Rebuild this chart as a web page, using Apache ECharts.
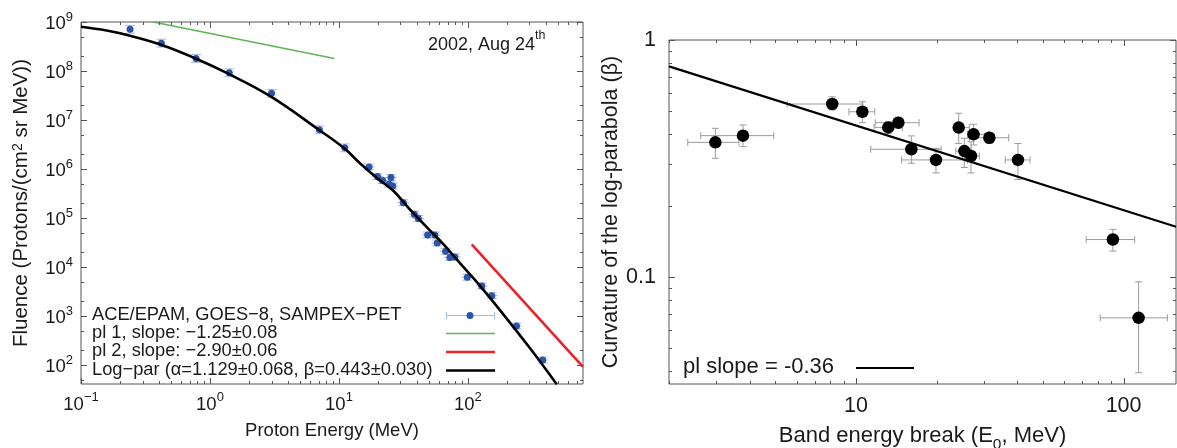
<!DOCTYPE html>
<html><head><meta charset="utf-8">
<script src="https://cdn.jsdelivr.net/npm/echarts@6/dist/echarts.min.js"></script>
<style>html,body{margin:0;padding:0;background:#fff}#c{width:1177px;height:448px}</style>
</head><body><div id="c"></div>
<script>
// ---------------- Left panel: proton fluence spectrum (2002, Aug 24) ----------------
const energyMeV = [0.24, 0.42, 0.78, 1.41, 3.0, 7.05, 11.1, 17.1, 19.9, 21.8, 24.5, 25.3, 26.1, 31.5, 38.4, 41.2, 48.7, 55.4, 57.8, 67.1, 72.4, 79.2, 98.8, 128, 153, 238, 380];
const fluence = [7.1e8, 3.7e8, 1.8e8, 9.2e7, 3.5e7, 6.3e6, 2.7e6, 1.1e6, 7.0e5, 5.8e5, 4.9e5, 6.7e5, 4.5e5, 2.05e5, 1.2e5, 9.8e4, 4.5e4, 4.5e4, 3.1e4, 2.1e4, 1.57e4, 1.6e4, 6.2e3, 4.1e3, 2.6e3, 625, 126];
const energyErrDex = [0, 0, 0, 0, 0, 0, 0, 0.045, 0.045, 0.045, 0.045, 0.045, 0.045, 0.045, 0.045, 0.045, 0.045, 0.045, 0.045, 0.045, 0.045, 0.045, 0.045, 0.045, 0.045, 0.04, 0.04];
const fluenceErrDex = [0.08, 0.08, 0.08, 0.08, 0.08, 0.08, 0.08, 0.06, 0.06, 0.06, 0.06, 0.06, 0.06, 0.06, 0.06, 0.06, 0.06, 0.06, 0.06, 0.06, 0.06, 0.06, 0.06, 0.06, 0.06, 0.06, 0.06];
// log-parabola fit curve
const logParE = [0.1, 0.158, 0.24, 0.423, 0.774, 1.41, 2.97, 7.03, 11.0, 14.55, 20, 26.4, 35, 47.9, 65, 86.7, 120, 172, 300, 488];
const logParF = [8.0e8, 6.7e8, 5.25e8, 3.4e8, 1.8e8, 8.6e7, 3.0e7, 6.25e6, 2.64e6, 1.31e6, 6.35e5, 3.6e5, 1.56e5, 6.5e4, 2.86e4, 1.2e4, 4.6e3, 1.45e3, 227, 40.4];
// power-law segments
const pl1E = [0.363, 9.2];
const pl1F = [1.0e9, 1.8e8];
const pl2E = [107, 780];
const pl2F = [2.9e4, 92];
const leftLegend = ['ACE/EPAM, GOES\u22128, SAMPEX\u2212PET', 'pl 1, slope: \u22121.25\u00b10.08', 'pl 2, slope: \u22122.90\u00b10.06', 'Log\u2212par (\u03b1=1.129\u00b10.068, \u03b2=0.443\u00b10.030)'];
const leftXRange = [0.1, 780];
const leftYRange = [41, 1e9];

// ---------------- Right panel: curvature vs band energy break ----------------
const breakE   = [2.98, 3.78, 8.15, 10.56, 13.2, 14.4, 16.1, 19.9, 24.2, 25.4, 26.9, 27.5, 31.5, 40.3, 91.2, 113.8];
const breakELo = [2.35, 2.63, 5.53, 9.41, 11.68, 11.8, 11.35, 14.8, 23.6, 23.6, 25.0, 26.1, 26.5, 36.1, 72.5, 81.8];
const breakEHi = [3.65, 4.93, 10.6, 11.75, 14.9, 17.2, 20.8, 26.1, 26.5, 26.9, 28.9, 31.3, 37.2, 44.7, 110, 145.8];
const beta     = [0.37, 0.395, 0.537, 0.498, 0.428, 0.448, 0.346, 0.312, 0.427, 0.340, 0.324, 0.40, 0.387, 0.312, 0.144, 0.0673];
const betaLo   = [0.317, 0.355, 0.507, 0.448, 0.404, 0.424, 0.302, 0.275, 0.366, 0.290, 0.275, 0.361, 0.366, 0.258, 0.1287, 0.0395];
const betaHi   = [0.424, 0.438, 0.576, 0.549, 0.452, 0.472, 0.394, 0.349, 0.491, 0.385, 0.372, 0.441, 0.406, 0.366, 0.159, 0.0955];
const plFitE = [2, 157];
const plFitBeta = [0.774, 0.163];
const rightXRange = [2, 157];
const rightYRange = [0.0354, 1];

// ---------------- helpers ----------------
const FONT = 'Liberation Sans, Arial, Helvetica, sans-serif';
const TXT = '#1a1a1a';
const AX = '#555';

function isPow10(v) { const l = Math.log10(v); return Math.abs(l - Math.round(l)) < 1e-6; }
function logTicks(min, max, mults) {
  const out = [];
  for (let k = Math.floor(Math.log10(min)) - 1; k <= Math.ceil(Math.log10(max)); k++) {
    for (const m of [1].concat(mults)) {
      const v = m * Math.pow(10, k);
      if (v >= min * 0.9999 && v <= max * 1.0001) out.push([v, m === 1 ? 1 : 0]);
    }
  }
  return out;
}
function tickSeries(idx, xr, yr, xMults, yMults, majL, minL) {
  const data = [];
  logTicks(xr[0], xr[1], xMults).forEach(t => data.push([t[0], yr[0], t[1], 0]));
  logTicks(yr[0], yr[1], yMults).forEach(t => data.push([xr[0], t[0], t[1], 1]));
  return {
    type: 'custom', xAxisIndex: idx, yAxisIndex: idx, silent: true, z: 5, clip: false,
    data: data,
    renderItem: function (params, api) {
      const v0 = api.value(0), v1 = api.value(1), major = api.value(2), kind = api.value(3);
      const L = major ? majL : minL;
      const st = { stroke: AX, lineWidth: 1 };
      if (kind === 0) {
        const b = api.coord([v0, yr[0]]), t = api.coord([v0, yr[1]]);
        const x = Math.round(b[0]) + 0.5;
        return { type: 'group', children: [
          { type: 'line', shape: { x1: x, y1: b[1], x2: x, y2: b[1] - L }, style: st },
          { type: 'line', shape: { x1: x, y1: t[1], x2: x, y2: t[1] + L }, style: st }
        ]};
      } else {
        const l = api.coord([xr[0], v1]), r = api.coord([xr[1], v1]);
        const y = Math.round(l[1]) + 0.5;
        return { type: 'group', children: [
          { type: 'line', shape: { x1: l[0], y1: y, x2: l[0] + L, y2: y }, style: st },
          { type: 'line', shape: { x1: r[0], y1: y, x2: r[0] - L, y2: y }, style: st }
        ]};
      }
    }
  };
}
function pow10Label(v) {
  if (!isPow10(v)) return '';
  const e = Math.round(Math.log10(v));
  return '{b|10}{s|' + (e < 0 ? '\u2212' + (-e) : e) + '}';
}
const powRich = {
  b: { fontSize: 18.5, fontFamily: FONT, color: TXT, lineHeight: 23, verticalAlign: 'bottom' },
  s: { fontSize: 13, fontFamily: FONT, color: TXT, lineHeight: 14, verticalAlign: 'top' }
};

const leftPoints = energyMeV.map((e, i) => [e, fluence[i]]);
const leftErr = energyMeV.map((e, i) => [e, fluence[i], energyErrDex[i], fluenceErrDex[i]]);
const rightPoints = breakE.map((e, i) => [e, beta[i]]);
const rightErr = breakE.map((e, i) => [e, beta[i], breakELo[i], breakEHi[i], betaLo[i], betaHi[i]]);

const option = {
  animation: false,
  backgroundColor: '#fff',
  textStyle: { fontFamily: FONT },
  grid: [
    { left: 81, top: 22, right: 594, bottom: 64, show: true, borderColor: AX, borderWidth: 1, backgroundColor: 'transparent', containLabel: false, outerBoundsMode: 'none' },
    { left: 669, top: 40, right: 1, bottom: 64, show: true, borderColor: AX, borderWidth: 1, backgroundColor: 'transparent', containLabel: false, outerBoundsMode: 'none' }
  ],
  xAxis: [
    { gridIndex: 0, type: 'log', logBase: 10, min: leftXRange[0], max: leftXRange[1],
      axisLine: { show: false }, axisTick: { show: false }, splitLine: { show: false },
      axisLabel: { formatter: pow10Label, rich: powRich, margin: 7, color: TXT, showMinLabel: true, showMaxLabel: true },
      name: 'Proton Energy (MeV)', nameLocation: 'middle', nameGap: 37,
      nameTextStyle: { fontSize: 18.5, color: TXT, fontFamily: FONT } },
    { gridIndex: 1, type: 'log', logBase: 10, min: rightXRange[0], max: rightXRange[1],
      axisLine: { show: false }, axisTick: { show: false }, splitLine: { show: false },
      axisLabel: { formatter: v => isPow10(v) ? String(Math.round(v)) : '', fontSize: 21.5, margin: 11, color: TXT, fontFamily: FONT },
      name: 'Band energy break (E{sub|0}, MeV)', nameLocation: 'middle', nameGap: 35,
      nameTextStyle: { fontSize: 22, color: TXT, fontFamily: FONT,
        rich: { sub: { fontSize: 15.5, fontFamily: FONT, color: TXT, lineHeight: 34, verticalAlign: 'bottom' } } } }
  ],
  yAxis: [
    { gridIndex: 0, type: 'log', logBase: 10, min: leftYRange[0], max: leftYRange[1],
      axisLine: { show: false }, axisTick: { show: false }, splitLine: { show: false },
      axisLabel: { formatter: pow10Label, rich: powRich, margin: 8, color: TXT, showMinLabel: true, showMaxLabel: true },
      name: 'Fluence (Protons/(cm{s|2} sr MeV))', nameLocation: 'middle', nameGap: 49,
      nameTextStyle: { fontSize: 20.5, color: TXT, fontFamily: FONT,
        rich: { s: { fontSize: 14, fontFamily: FONT, color: TXT, lineHeight: 14, verticalAlign: 'top' } } } },
    { gridIndex: 1, type: 'log', logBase: 10, min: rightYRange[0], max: rightYRange[1],
      axisLine: { show: false }, axisTick: { show: false }, splitLine: { show: false },
      axisLabel: { formatter: v => isPow10(v) ? String(+v.toPrecision(3)) : '', fontSize: 21.5, margin: 13, color: TXT, fontFamily: FONT, showMaxLabel: true },
      name: 'Curvature of the log-parabola (\u03b2)', nameLocation: 'middle', nameGap: 45,
      nameTextStyle: { fontSize: 21.5, color: TXT, fontFamily: FONT } }
  ],
  series: [
    tickSeries(0, leftXRange, leftYRange, [2, 3, 4, 5, 6, 7, 8, 9], [2, 5], 6, 3),
    tickSeries(1, rightXRange, rightYRange, [2, 3, 4, 5, 6, 7, 8, 9], [2, 3, 4, 5, 6, 7, 8, 9], 6, 3),
    { name: 'pl 1', type: 'line', xAxisIndex: 0, yAxisIndex: 0, data: pl1E.map((e, i) => [e, pl1F[i]]),
      showSymbol: false, lineStyle: { color: '#5cb652', width: 1.6 }, z: 3 },
    { name: 'pl 2', type: 'line', xAxisIndex: 0, yAxisIndex: 0, data: pl2E.map((e, i) => [e, pl2F[i]]),
      showSymbol: false, lineStyle: { color: '#e8232a', width: 2.6 }, z: 3 },
    { name: 'errors', type: 'custom', xAxisIndex: 0, yAxisIndex: 0, data: leftErr, silent: true, z: 2,
      encode: { x: 0, y: 1 },
      renderItem: function (params, api) {
        const E = api.value(0), F = api.value(1), ex = api.value(2), fx = api.value(3);
        const c = api.coord([E, F]);
        const st = { stroke: '#a9b9e0', lineWidth: 1 };
        const ch = [];
        if (ex > 0) {
          const xl = api.coord([E / Math.pow(10, ex), F])[0], xr = api.coord([E * Math.pow(10, ex), F])[0];
          ch.push({ type: 'line', shape: { x1: xl, y1: c[1], x2: xr, y2: c[1] }, style: st });
        }
        const yt = api.coord([E, F * Math.pow(10, fx)])[1], yb = api.coord([E, F / Math.pow(10, fx)])[1];
        ch.push({ type: 'line', shape: { x1: c[0], y1: yt, x2: c[0], y2: yb }, style: st });
        ch.push({ type: 'line', shape: { x1: c[0] - 5, y1: yt, x2: c[0] + 5, y2: yt }, style: st });
        ch.push({ type: 'line', shape: { x1: c[0] - 5, y1: yb, x2: c[0] + 5, y2: yb }, style: st });
        return { type: 'group', children: ch };
      } },
    { name: 'ACE/EPAM, GOES-8, SAMPEX-PET', type: 'scatter', xAxisIndex: 0, yAxisIndex: 0, data: leftPoints,
      symbolSize: 7, itemStyle: { color: '#2b55ab', opacity: 1 }, z: 4 },
    { name: 'Log-par', type: 'line', xAxisIndex: 0, yAxisIndex: 0, data: logParE.map((e, i) => [e, logParF[i]]),
      showSymbol: false, smooth: 0.4, lineStyle: { color: '#000', width: 2.6 }, z: 5 },
    { name: 'pl fit', type: 'line', xAxisIndex: 1, yAxisIndex: 1, data: plFitE.map((e, i) => [e, plFitBeta[i]]),
      showSymbol: false, lineStyle: { color: '#000', width: 2.2 }, z: 3 },
    { name: 'beta errors', type: 'custom', xAxisIndex: 1, yAxisIndex: 1, data: rightErr, silent: true, z: 2,
      encode: { x: 0, y: 1 },
      renderItem: function (params, api) {
        const E = api.value(0), B = api.value(1);
        const c = api.coord([E, B]);
        const xl = api.coord([api.value(2), B])[0], xr = api.coord([api.value(3), B])[0];
        const yb = api.coord([E, api.value(4)])[1], yt = api.coord([E, api.value(5)])[1];
        const st = { stroke: '#9c9c9c', lineWidth: 1 };
        const k = 3.5;
        return { type: 'group', children: [
          { type: 'line', shape: { x1: xl, y1: c[1], x2: xr, y2: c[1] }, style: st },
          { type: 'line', shape: { x1: xl, y1: c[1] - k, x2: xl, y2: c[1] + k }, style: st },
          { type: 'line', shape: { x1: xr, y1: c[1] - k, x2: xr, y2: c[1] + k }, style: st },
          { type: 'line', shape: { x1: c[0], y1: yt, x2: c[0], y2: yb }, style: st },
          { type: 'line', shape: { x1: c[0] - k, y1: yt, x2: c[0] + k, y2: yt }, style: st },
          { type: 'line', shape: { x1: c[0] - k, y1: yb, x2: c[0] + k, y2: yb }, style: st }
        ]};
      } },
    { name: 'beta', type: 'scatter', xAxisIndex: 1, yAxisIndex: 1, data: rightPoints,
      symbolSize: 12.5, itemStyle: { color: '#000', opacity: 1 }, z: 4 }
  ],
  graphic: [
    // left legend
    { type: 'text', left: 92, top: 306, style: { text: leftLegend[0], font: '18.3px ' + FONT, fill: TXT } },
    { type: 'text', left: 92, top: 324, style: { text: leftLegend[1], font: '18.3px ' + FONT, fill: TXT } },
    { type: 'text', left: 92, top: 342, style: { text: leftLegend[2], font: '18.3px ' + FONT, fill: TXT } },
    { type: 'text', left: 92, top: 360.5, style: { text: leftLegend[3], font: '18.3px ' + FONT, fill: TXT } },
    { type: 'line', shape: { x1: 446, y1: 315.5, x2: 495, y2: 315.5 }, style: { stroke: '#a9b9e0', lineWidth: 1 } },
    { type: 'line', shape: { x1: 446.5, y1: 312, x2: 446.5, y2: 319 }, style: { stroke: '#a9b9e0', lineWidth: 1 } },
    { type: 'line', shape: { x1: 494.5, y1: 312, x2: 494.5, y2: 319 }, style: { stroke: '#a9b9e0', lineWidth: 1 } },
    { type: 'circle', shape: { cx: 470, cy: 315.5, r: 3.5 }, style: { fill: '#2b55ab' } },
    { type: 'line', shape: { x1: 446, y1: 333.5, x2: 495, y2: 333.5 }, style: { stroke: '#5cb652', lineWidth: 1.6 } },
    { type: 'line', shape: { x1: 446, y1: 352, x2: 495, y2: 352 }, style: { stroke: '#e8232a', lineWidth: 2.6 } },
    { type: 'line', shape: { x1: 446, y1: 370.5, x2: 495, y2: 370.5 }, style: { stroke: '#000', lineWidth: 2.6 } },
    // date label
    { type: 'text', left: 428, top: 29, style: { text: '{a|2002, Aug 24}{s|th}', font: '17px ' + FONT, fill: TXT,
      rich: { a: { fontSize: 18, fontFamily: FONT, fill: TXT, lineHeight: 25, verticalAlign: 'bottom' },
              s: { fontSize: 12.5, fontFamily: FONT, fill: TXT, lineHeight: 14, verticalAlign: 'top' } } } },
    // right legend
    { type: 'text', left: 683, top: 356, style: { text: 'pl slope = -0.36', font: '22px ' + FONT, fill: TXT } },
    { type: 'line', shape: { x1: 856, y1: 368, x2: 914, y2: 368 }, style: { stroke: '#000', lineWidth: 2.2 } }
  ]
};
const chart = echarts.init(document.getElementById('c'), null, { renderer: 'canvas' });
chart.setOption(option);
</script></body></html>
